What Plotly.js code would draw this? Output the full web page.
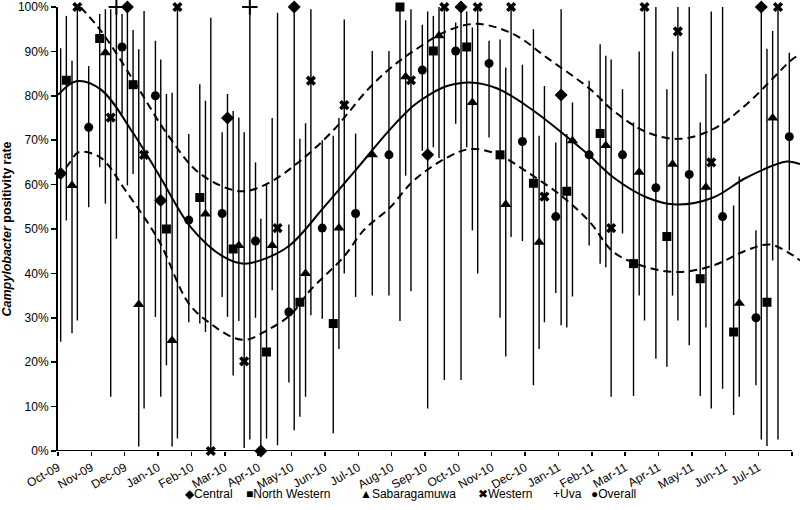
<!DOCTYPE html>
<html>
<head>
<meta charset="utf-8">
<script src="https://cdn.plot.ly/plotly-3.0.1.min.js"></script>
<style>
  html, body { margin: 0; padding: 0; background: #fff; }
  #chart { width: 800px; height: 510px; }
</style>
</head>
<body>
<div id="chart"></div>
<script>
// month labels on the x axis (one tick per month, last tick unlabelled)
var months = ['Oct-09', 'Nov-09', 'Dec-09', 'Jan-10', 'Feb-10', 'Mar-10', 'Apr-10', 'May-10',
              'Jun-10', 'Jul-10', 'Aug-10', 'Sep-10', 'Oct-10', 'Nov-10', 'Dec-10', 'Jan-11',
              'Feb-11', 'Mar-11', 'Apr-11', 'May-11', 'Jun-11', 'Jul-11'];

// month index (0 = Oct-09), positivity rate %, lower and upper limit %
var centralMonth = [0, 2, 3, 5, 6, 7, 11, 12, 15, 21];
var centralRate  = [62.5, 100, 56.4, 75, 0, 100, 66.7, 100, 80.2, 100];
var centralLow   = [24.6, 59.8, 12.2, 30.2, 0, 4.7, 9.6, 16, 28.3, 2.6];
var centralHigh  = [90.7, 100, 88.2, 80.4, 52.3, 100, 99, 100, 99.5, 100];

var northWesternMonth = [0, 1, 2, 3, 4, 5, 6, 7, 8, 10, 11, 12, 13, 14, 15, 16, 17, 18, 19, 20, 21];
var northWesternRate  = [83.5, 92.9, 82.5, 50, 57.1, 45.5, 22.3, 33.5, 28.7, 100, 90.1, 91, 66.7, 60.3, 58.5, 71.5, 42.2, 48.3, 38.8, 26.8, 33.5];
var northWesternLow   = [51.9, 63.9, 62.4, 19.3, 28.7, 17, 2.8, 7.7, 4, 29.3, 68.4, 68.4, 30, 14.8, 27.8, 42.2, 12.4, 19, 12.4, 8.1, 1.1];
var northWesternHigh  = [98, 98.4, 94.8, 80.4, 82.6, 76.6, 60.2, 70.3, 71, 100, 98, 99, 92.7, 95, 71.4, 91.6, 74, 81.5, 74, 55.3, 90.6];

var sabaragamuwaMonth = [0, 1, 2, 3, 4, 5, 6, 7, 8, 9, 10, 11, 12, 13, 14, 15, 16, 17, 18, 19, 20, 21];
var sabaragamuwaRate  = [59.8, 89.7, 33, 24.9, 53.4, 46.3, 46.3, 40, 50.2, 66.7, 84.3, 93.5, 78.5, 55.5, 47, 69.9, 68.8, 62.8, 64.6, 59.4, 33.3, 75];
var sabaragamuwaLow   = [26.5, 55.7, 1, 1, 26.8, 29.3, 36.2, 12.2, 23, 35, 62, 66, 49.7, 21.3, 23, 34.8, 41.4, 35, 35, 27.8, 12.2, 42.9];
var sabaragamuwaHigh  = [87.9, 99.5, 90.5, 80.7, 78.9, 75.1, 75, 73.8, 75, 90.1, 97, 100, 95.4, 86.4, 71, 78.5, 89, 90, 90, 84.9, 61.8, 94.6];

var westernMonth = [0, 1, 2, 3, 4, 5, 6, 7, 8, 10, 11, 12, 13, 14, 16, 17, 18, 19, 21];
var westernRate  = [100, 75.1, 66.7, 100, 0, 20.2, 50.2, 83.4, 77.9, 83.5, 100, 100, 100, 57.3, 50.2, 100, 94.5, 65, 100];
var westernLow   = [29.4, 12.2, 9.6, 2.8, 0, 0.7, 1.3, 30.6, 40, 36, 16, 40, 48.2, 29, 12.2, 29.4, 29.4, 9.6, 2.6];
var westernHigh  = [100, 99.5, 99.1, 100, 97.6, 71.8, 98.7, 99.5, 97.2, 99.5, 100, 100, 100, 82.2, 88.2, 100, 100, 99, 100];

var uvaMonth = [1, 5];
var uvaRate  = [100, 100];
var uvaLow   = [47.8, 2.6];
var uvaHigh  = [100, 100];

var overallMonth = [0, 1, 2, 3, 4, 5, 6, 7, 8, 9, 10, 11, 12, 13, 14, 15, 16, 17, 18, 19, 20, 21];
var overallRate  = [72.9, 91, 80, 52, 53.5, 47.3, 31.3, 50.2, 53.5, 66.7, 85.8, 90.1, 87.3, 69.7, 52.8, 66.7, 66.7, 59.3, 62.3, 52.8, 30, 70.8];
var overallLow   = [54.9, 75.9, 30.2, 29, 34.7, 30, 15.4, 29.8, 34.7, 35, 67.6, 73.7, 70.6, 47.3, 35.6, 46.3, 49, 20.8, 23.8, 14, 14.8, 45.2];
var overallHigh  = [86.7, 98.4, 92.4, 71.4, 71.8, 65, 51, 70, 71.5, 90.1, 96, 96.5, 92.4, 87, 69.5, 83.4, 81.5, 100, 100, 100, 49.7, 89.7];

// fitted seasonal curve and its upper / lower band (month position, %)
var fitMonth  = [0, 0.55, 1.27, 2.27, 3.07, 3.97, 4.97, 5.57, 6.27, 6.96, 7.96, 8.96, 9.96, 10.66, 11.16, 11.66, 12.35, 13.15, 14.15, 15.15, 15.95, 16.65, 17.65, 18.54, 19.64, 20.64, 21.84, 22.24];
var fitRate   = [80.2, 83.3, 81.5, 71.4, 61.6, 50.5, 43.7, 42.2, 43.5, 46.4, 54.8, 63.6, 72.5, 77.8, 80.4, 82.2, 83.0, 81.7, 77.2, 71.4, 66.4, 61.6, 57.1, 55.5, 57.1, 61.6, 65.2, 64.6];
var upperMonth = [0.67, 1.27, 2.27, 3.27, 4.27, 5.47, 6.27, 7.27, 8.26, 9.26, 9.96, 10.66, 11.66, 12.55, 13.65, 14.65, 15.95, 16.65, 17.65, 18.64, 19.64, 20.64, 22.04, 22.24];
var upperRate  = [100, 94.8, 83.4, 71.4, 62.4, 58.5, 60.2, 65.4, 72.3, 81.2, 86.2, 90.1, 94.6, 96.2, 93.9, 88.6, 81.5, 76.6, 71.8, 70.3, 72.5, 78.1, 88.4, 89.2];
var lowerMonth = [0, 0.32, 0.62, 1.27, 2.02, 3.02, 3.92, 4.57, 5.27, 5.67, 6.27, 6.96, 7.56, 8.56, 9.16, 9.96, 10.66, 11.66, 12.35, 13.15, 14.15, 15.15, 15.95, 16.65, 17.65, 18.64, 19.64, 20.64, 21.34, 22.04, 22.24];
var lowerRate  = [61.5, 64.6, 67.3, 66.1, 58.7, 47.4, 33.2, 28.7, 25.5, 25.1, 27.2, 30.6, 36.2, 43.7, 49.7, 54.9, 60.9, 66.1, 68.0, 66.9, 62.4, 57.1, 51.5, 44.8, 41.4, 40.3, 41.8, 45.2, 46.5, 44.0, 42.9];

var FONT = 'Liberation Sans, Arial, sans-serif';

// each series sits at its own slot inside the month; legendX = left edge of its legend entry (px)
var series = [
  { name: 'Central',       glyph: '\u25C6', month: centralMonth,      rate: centralRate,      low: centralLow,      high: centralHigh,      slot: 0.08, symbol: 'diamond',         size: 10, legendX: 183 },
  { name: 'North Western', glyph: '\u25A0', month: northWesternMonth, rate: northWesternRate, low: northWesternLow, high: northWesternHigh, slot: 0.25, symbol: 'square',          size: 9,  legendX: 244 },
  { name: 'Sabaragamuwa',  glyph: '\u25B2', month: sabaragamuwaMonth, rate: sabaragamuwaRate, low: sabaragamuwaLow, high: sabaragamuwaHigh, slot: 0.42, symbol: 'triangle-up',     size: 10, legendX: 358 },
  { name: 'Western',       glyph: '\u2716', month: westernMonth,      rate: westernRate,      low: westernLow,      high: westernHigh,      slot: 0.58, symbol: 'x',               size: 9,  legendX: 476 },
  { name: 'Uva',           glyph: '+',      month: uvaMonth,          rate: uvaRate,          low: uvaLow,          high: uvaHigh,          slot: 0.75, symbol: 'cross-thin-open', size: 11, legendX: 551 },
  { name: 'Overall',       glyph: '\u25CF', month: overallMonth,      rate: overallRate,      low: overallLow,      high: overallHigh,      slot: 0.92, symbol: 'circle',          size: 9,  legendX: 589 }
];

var traces = series.map(function(s) {
  return {
    type: 'scatter',
    mode: 'markers',
    name: s.name,
    showlegend: false,
    x: s.month.map(function(m) { return m + s.slot; }),
    y: s.rate,
    cliponaxis: false,
    marker: {
      symbol: s.symbol,
      size: s.size,
      color: '#000',
      line: { color: '#000', width: s.symbol == 'cross-thin-open' ? 2 : 0 }
    },
    error_y: {
      type: 'data',
      symmetric: false,
      array: s.high.map(function(h, i) { return h - s.rate[i]; }),
      arrayminus: s.low.map(function(l, i) { return s.rate[i] - l; }),
      width: 0,
      thickness: 1.4,
      color: '#000'
    }
  };
});

function curve(x, y, dash) {
  return {
    type: 'scatter',
    mode: 'lines',
    x: x,
    y: y,
    showlegend: false,
    hoverinfo: 'skip',
    line: { color: '#000', width: 2, dash: dash, shape: 'spline', smoothing: 1 }
  };
}

traces.push(curve(fitMonth, fitRate, 'solid'));
traces.push(curve(upperMonth, upperRate, '8px,5px'));
traces.push(curve(lowerMonth, lowerRate, '8px,5px'));

var tickVals = months.map(function(m, i) { return i; }).concat([months.length]);
var tickText = months.concat(['']);

// legend written as text entries under the axis, the way the source chart shows it
var legendNotes = series.map(function(s) {
  return {
    xref: 'paper', yref: 'paper',
    x: (s.legendX - 58) / 742, y: (451 - 494) / 444,
    xanchor: 'left', yanchor: 'middle',
    showarrow: false,
    text: s.glyph + s.name,
    font: { family: FONT, size: 12, color: '#000' }
  };
});

var layout = {
  width: 800,
  height: 510,
  margin: { l: 58, r: 0, t: 7, b: 59, autoexpand: false },
  paper_bgcolor: '#fff',
  plot_bgcolor: '#fff',
  font: { family: FONT, color: '#000', size: 11 },
  showlegend: false,
  xaxis: {
    range: [0, 22.24],
    tickvals: tickVals,
    ticktext: tickText,
    tickangle: -30,
    ticks: 'outside',
    ticklen: 4,
    tickwidth: 1.5,
    tickcolor: '#000',
    showline: false,
    showgrid: false,
    zeroline: false,
    tickfont: { family: FONT, size: 12 }
  },
  yaxis: {
    range: [0, 100],
    dtick: 10,
    ticksuffix: '%',
    ticks: 'outside',
    ticklen: 5,
    tickwidth: 1.5,
    tickcolor: '#000',
    ticklabeloverflow: 'allow',
    showline: true,
    linewidth: 2,
    linecolor: '#000',
    showgrid: false,
    zeroline: false,
    tickfont: { family: FONT, size: 12 },
    title: {
      text: '<b><i>Campylobacter</i> positivity rate</b>',
      font: { family: FONT, size: 12.5 },
      standoff: 6
    }
  },
  shapes: [
    { type: 'line', xref: 'x', yref: 'y', x0: 0, x1: months.length, y0: 0, y1: 0, line: { color: '#000', width: 2 } }
  ],
  annotations: legendNotes
};

Plotly.newPlot('chart', traces, layout, { displayModeBar: false, staticPlot: true });
</script>
</body>
</html>
